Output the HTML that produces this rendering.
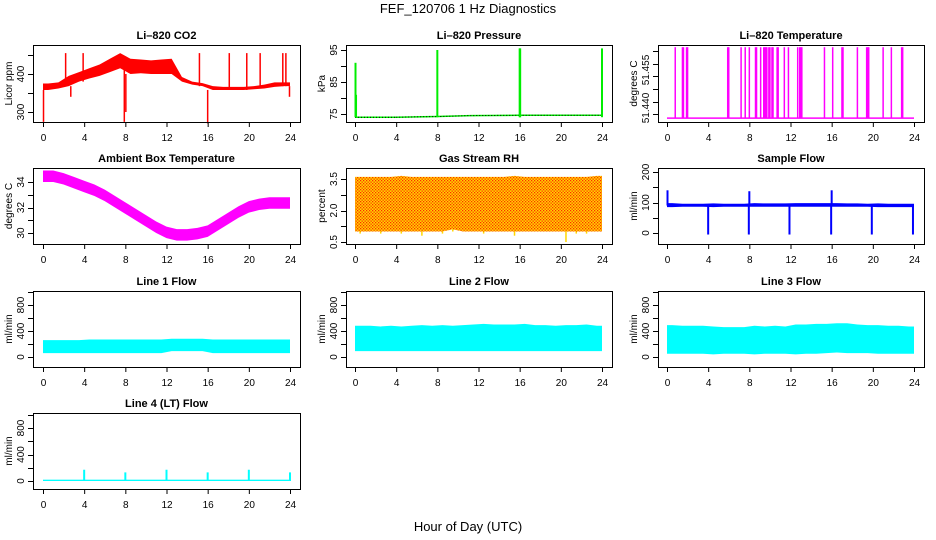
<!DOCTYPE html>
<html><head><meta charset="utf-8"><style>
html,body{margin:0;padding:0;background:#fff}
svg{display:block;font-family:"Liberation Sans",sans-serif}
</style></head><body>
<svg id="c" width="936" height="540" viewBox="0 0 936 540">
<defs>
<pattern id="rhpat" width="3" height="3" patternUnits="userSpaceOnUse">
<rect width="3" height="3" fill="#ffd700"/><rect x="0" y="0" width="1.3" height="1.3" fill="#ff2a00"/><rect x="1.5" y="1.5" width="1.3" height="1.3" fill="#ff2a00"/>
</pattern>
</defs>
<text x="468" y="13" text-anchor="middle" font-size="13">FEF_120706  1 Hz Diagnostics</text>
<text x="468" y="531" text-anchor="middle" font-size="13">Hour of Day (UTC)</text>
</svg>
<script>
// ---- data ----
const hours = [0,1,2,3,4,5,6,7,8,9,10,11,12,13,14,15,16,17,18,19,20,21,22,23];
const co2Lo = [358,362,368,380,388,395,405,415,400,402,400,400,400,380,372,368,358,358,358,358,360,362,366,368];
const co2Hi = [375,378,395,405,415,425,440,455,440,438,436,438,440,392,380,376,368,366,366,366,368,372,378,378];
const co2SpikeH = [0.05,2.2,2.7,3.9,7.9,8.05,15.2,16.0,18.1,19.8,21.1,23.3,23.6,23.95];
const co2SpikeV = [274,455,340,455,274,300,455,270,455,455,455,455,455,340];
const presH = [0,4,8,11.2,16,24];
const presV = [74,74,74.2,74.5,74.6,74.6];
const presSpikeH = [0.05,0.1,8.0,16.0,16.05,24.0];
const presSpikeV = [91,81,95,95.5,95.5,95.5];
const ltBase = 51.436;
const ltTop = 51.464;
const ltSpikeH = [0.8,1.5,1.6,1.9,2.0,5.9,6.0,7.2,7.6,8.0,8.6,8.7,9.1,9.4,9.5,9.6,9.7,9.9,10.0,10.2,10.3,10.7,10.8,11.4,11.8,12.7,12.9,13.0,13.1,15.3,16.1,17.0,17.1,18.5,19.4,19.5,19.6,21.0,21.8,22.8,22.9];
const ambH = [0,1,2,3,4,5,6,7,8,9,10,11,12,13,14,15,16,17,18,19,20,21,22,23,24];
const ambLo = [34.0,34.0,33.8,33.5,33.2,32.9,32.5,32.0,31.5,31.0,30.5,30.0,29.6,29.4,29.4,29.5,29.7,30.2,30.7,31.2,31.6,31.8,31.9,31.9,31.9];
const ambHi = [34.9,34.9,34.7,34.4,34.1,33.8,33.4,32.9,32.4,31.9,31.4,30.9,30.5,30.3,30.3,30.4,30.6,31.1,31.6,32.1,32.5,32.7,32.8,32.8,32.8];
const rhLo = [0.9,1.0,0.9,1.0,0.9,1.0,0.8,1.0,0.9,1.1,1.0,1.0,0.9,1.0,1.0,0.8,1.0,1.0,1.0,1.0,0.5,0.9,0.9,1.0];
const rhHi = [3.6,3.6,3.6,3.6,3.65,3.6,3.6,3.6,3.6,3.6,3.6,3.6,3.6,3.6,3.6,3.65,3.6,3.6,3.6,3.6,3.6,3.6,3.6,3.65];
const sfLo = [85,86,86,86,85,86,86,86,86,86,86,86,86,86,86,86,86,86,86,86,85,85,85,85];
const sfHi = [98,96,96,96,97,96,96,96,98,97,97,97,98,98,98,98,98,97,97,96,97,96,96,96];
const sfSpikeH = [0.05,4.0,7.95,8.0,11.9,15.95,16.0,19.9,23.9];
const sfSpikeV = [140,-5,-5,137,-5,-5,140,-5,-5];
const l1Lo = [60,60,60,60,60,60,60,60,60,60,60,60,90,90,90,90,60,60,60,60,60,60,60,60];
const l1Hi = [260,260,260,260,270,270,270,270,270,270,270,270,280,280,280,280,270,270,270,270,270,270,270,270];
const l2Lo = [90,90,90,90,90,90,90,90,90,90,90,90,90,90,90,90,90,90,90,90,90,90,90,90];
const l2Hi = [480,480,470,480,470,480,490,480,490,480,490,500,510,500,500,500,510,490,490,480,490,490,500,480];
const l3Lo = [50,50,50,50,40,50,50,50,40,50,50,50,40,50,50,60,70,60,60,60,50,50,50,50];
const l3Hi = [490,480,480,480,470,460,460,460,480,470,480,470,500,500,510,510,520,520,500,490,490,480,480,470];
const l4Level = [0,20];
const l4SpikeH = [4.0,8.0,12.0,16.0,20.0,24.0];
const l4SpikeV = [170,130,170,130,170,130];
const xTicks = [0,4,8,12,16,20,24];

// ---- layout ----
const NS = 'http://www.w3.org/2000/svg';
const svg = document.getElementById('c');
const cols = [{bx0:33,bx1:300,a:43,b:290,yl:8},{bx0:346,bx1:612,a:355,b:602,yl:321},{bx0:658,bx1:924,a:667,b:914,yl:633}];
const rows = [{t:45,b:122},{t:168,b:244},{t:291,b:367},{t:413,b:489}];
function el(tag, attrs, parent){const e=document.createElementNS(NS,tag);for(const k in attrs)e.setAttribute(k,attrs[k]);(parent||svg).appendChild(e);return e;}

function panel(name, title, ytitle, ci, ri, v1, p1, v2, p2, ticks, labels, fmt, lfs){
  const c=cols[ci], r=rows[ri];
  const g=el('g',{});
  
  
  const X=h=>c.a+(h/24)*(c.b-c.a);
  const Y=v=>p1+(v-v1)*(p2-p1)/(v2-v1);
  const t=el('text',{x:(c.bx0+c.bx1)/2,y:r.t-6,'text-anchor':'middle','font-size':11,'font-weight':'bold'},g);
  t.textContent=title;
  
  
  const yt=el('text',{x:c.yl+4,y:(r.t+r.b)/2,'text-anchor':'middle','font-size':10,transform:`rotate(-90 ${c.yl+4} ${(r.t+r.b)/2})`},g);
  yt.textContent=ytitle;
  
  
  const plot=el('g',{},g);
  
  
  const box=el('rect',{x:c.bx0+.5,y:r.t+.5,width:c.bx1-c.bx0,height:r.b-r.t,fill:'none',stroke:'#000','stroke-width':1},g);
  
  
  const xa=el('g',{},g);
  
  
  el('line',{x1:X(0),x2:X(24),y1:r.b+.5,y2:r.b+.5,stroke:'#000'},xa);
  xTicks.forEach(h=>{
    el('line',{x1:X(h)+.5,x2:X(h)+.5,y1:r.b,y2:r.b+5,stroke:'#000'},xa);
    const tx=el('text',{x:X(h)+.5,y:r.b+19,'text-anchor':'middle','font-size':10},xa);
    tx.textContent=h;
  });
  const ya=el('g',{},g);
  
  
  ticks.forEach(v=>{
    const y=Math.round(Y(v))+.5;
    el('line',{x1:c.bx0-5,x2:c.bx0,y1:y,y2:y,stroke:'#000'},ya);
  });
  el('line',{x1:c.bx0+.5,x2:c.bx0+.5,y1:Y(ticks[0]),y2:Y(ticks[ticks.length-1]),stroke:'#000'},ya);
  labels.forEach(v=>{
    const y=Y(v), x=c.bx0-9;
    const tx=el('text',{x:x,y:y,'text-anchor':'middle','font-size':lfs||10,transform:`rotate(-90 ${x} ${y})`},ya);
    tx.textContent=fmt?fmt(v):v;
  });
  return {X,Y,plot};
}
function bands(p,lo,hi,color,name){
  const pts=[0].concat(hours.map(h=>h+0.5)).concat([24]);
  const idx=[0].concat(hours.map((h,i)=>i)).concat([hours.length-1]);
  let d='M'+pts.map((h,k)=>p.X(h)+','+p.Y(hi[idx[k]])).join(' L');
  for(let k=pts.length-1;k>=0;k--) d+=' L'+p.X(pts[k])+','+p.Y(lo[idx[k]]);
  d+='Z';
  const r=el('path',{d:d,fill:color},p.plot);
  
  
}
function spikes(p,H,V,base,color,name,w){
  H.forEach((h,i)=>{
    const l=el('line',{x1:p.X(h),x2:p.X(h),y1:p.Y(base),y2:p.Y(V[i]),stroke:color,'stroke-width':w||1.5},p.plot);
    
    
  });
}

let p=panel('co2','Li\u2013820 CO2','Licor ppm',0,0,300,112,400,74,[300,350,400,450],[300,400]);
bands(p,co2Lo,co2Hi,'#ff0000','co2');
co2SpikeH.forEach((h,i)=>{const b=co2Lo[Math.min(23,Math.floor(h))];
  const l=el('line',{x1:p.X(h),x2:p.X(h),y1:p.Y(b),y2:p.Y(co2SpikeV[i]),stroke:'#ff0000','stroke-width':1.5},p.plot);
  
  });

p=panel('pressure','Li\u2013820 Pressure','kPa',1,0,75,114,95,50,[75,80,85,90,95],[75,85,95]);
for(let i=0;i<presH.length-1;i++){
  const l=el('line',{x1:p.X(presH[i]),x2:p.X(presH[i+1]),y1:p.Y(presV[i]),y2:p.Y(presV[i+1]),stroke:'#00ee00','stroke-width':1.5},p.plot);
  
  
  const d=el('line',{x1:p.X(presH[i]),x2:p.X(presH[i+1]),y1:p.Y(presV[i]),y2:p.Y(presV[i+1]),stroke:'#000','stroke-width':1,'stroke-dasharray':'1 2'},p.plot);
  
  
}
spikes(p,presSpikeH,presSpikeV,74,'#00ee00','pressure',2);

p=panel('li-temp','Li\u2013820 Temperature','degrees C',2,0,51.44,108,51.455,70,[51.4375,51.4425,51.4475,51.4525,51.4575,51.4625],[51.44,51.455],v=>v.toFixed(3),10);
{const l=el('line',{x1:p.X(0),x2:p.X(24),y1:p.Y(ltBase),y2:p.Y(ltBase),stroke:'#ff00ff','stroke-width':1.5},p.plot);

}
spikes(p,ltSpikeH,ltSpikeH.map(()=>ltTop),ltBase,'#ff00ff','li-temp',1.5);

p=panel('ambient','Ambient Box Temperature','degrees C',0,1,34,182,30,233,[30,31,32,33,34],[30,32,34]);
{let d='M'+ambH.map((h,i)=>p.X(h)+','+p.Y(ambHi[i])).join(' L')+' L'+ambH.slice().reverse().map((h,j)=>p.X(h)+','+p.Y(ambLo[ambH.length-1-j])).join(' L')+'Z';
const a=el('path',{d:d,fill:'#ff00ff'},p.plot);

}

p=panel('rh','Gas Stream RH','percent',1,1,3.5,179,0.5,242,[0.5,1.25,2,2.75,3.5],[0.5,2.0,3.5],v=>v.toFixed(1));
bands(p,rhLo.map(v=>Math.max(v,1.0)),rhHi,'url(#rhpat)','rh');
hours.forEach((h,i)=>{const l=el('line',{x1:p.X(h+0.5),x2:p.X(h+0.5),y1:p.Y(1.0),y2:p.Y(rhLo[i]),stroke:'#ffd700','stroke-width':1.5},p.plot);

});

p=panel('sample-flow','Sample Flow','ml/min',2,1,0,233,200,172,[0,50,100,150,200],[0,100,200]);
bands(p,sfLo,sfHi,'#0000ff','sample-flow');
spikes(p,sfSpikeH,sfSpikeV,90,'#0000ff','sample-flow',2);

p=panel('line1-flow','Line 1 Flow','ml/min',0,2,0,357,800,305,[0,200,400,600,800,1000],[0,400,800]);
bands(p,l1Lo,l1Hi,'#00ffff','line1-flow');
p=panel('line2-flow','Line 2 Flow','ml/min',1,2,0,357,800,305,[0,200,400,600,800,1000],[0,400,800]);
bands(p,l2Lo,l2Hi,'#00ffff','line2-flow');
p=panel('line3-flow','Line 3 Flow','ml/min',2,2,0,357,800,305,[0,200,400,600,800,1000],[0,400,800]);
bands(p,l3Lo,l3Hi,'#00ffff','line3-flow');
p=panel('line4-flow','Line 4 (LT) Flow','ml/min',0,3,0,481,800,428,[0,200,400,600,800,1000],[0,400,800]);
{const r=el('rect',{x:p.X(0),y:p.Y(l4Level[1]),width:p.X(24)-p.X(0),height:p.Y(l4Level[0])-p.Y(l4Level[1]),fill:'#00ffff'},p.plot);

}
spikes(p,l4SpikeH,l4SpikeV,0,'#00ffff','line4-flow',2);
</script>
</body></html>
